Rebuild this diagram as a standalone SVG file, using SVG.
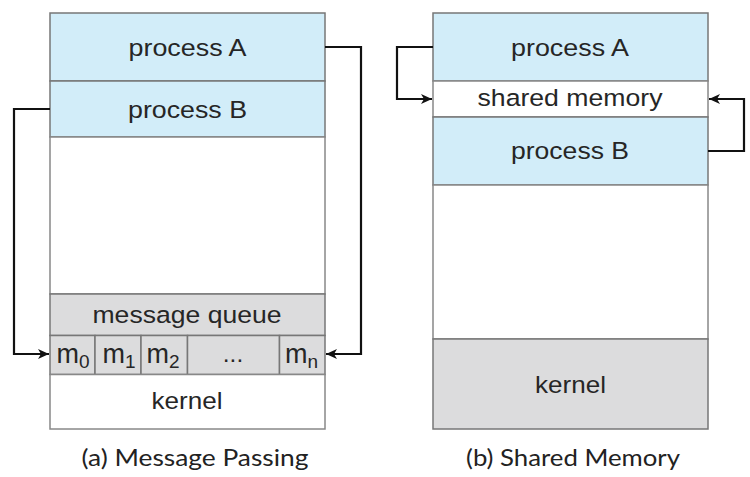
<svg xmlns="http://www.w3.org/2000/svg" width="750" height="477" viewBox="0 0 750 477">
<defs>
<marker id="ah" markerUnits="userSpaceOnUse" markerWidth="12" markerHeight="10" refX="11" refY="5" orient="auto">
<path d="M0,0 L11,5 L0,10 L3,5 Z" fill="#111"/>
</marker>
<style>
.blue{fill:#d2edf9;stroke:#777;stroke-width:1.5}
.white{fill:#ffffff;stroke:#888;stroke-width:1.5}
.gray{fill:#dcdcdd;stroke:#777;stroke-width:1.5}
.lbl{font-family:"Liberation Sans",Arial,sans-serif;font-size:24.5px;fill:#262626;text-anchor:middle}
.m{font-family:"Liberation Sans",Arial,sans-serif;font-size:27px;fill:#262626}
.sub{font-size:19px}
.cap{font-family:Lato,"Open Sans",sans-serif;font-size:23px;fill:#222;text-anchor:middle}
.conn{fill:none;stroke:#111;stroke-width:2.2}
</style>
</defs>
<rect width="750" height="477" fill="#ffffff"/>

<g id="left-diagram">
<g id="l-processA"><rect class="blue" x="50" y="13" width="275" height="68"/><text class="lbl" x="187.5" y="55.5" textLength="118" lengthAdjust="spacingAndGlyphs">process A</text></g>
<g id="l-processB"><rect class="blue" x="50" y="81" width="275" height="56"/><text class="lbl" x="187.5" y="117.5" textLength="119" lengthAdjust="spacingAndGlyphs">process B</text></g>
<g id="l-free"><rect class="white" x="50" y="137" width="275" height="157"/></g>
<g id="l-mq"><rect class="gray" x="50" y="294" width="275" height="41.5"/><text class="lbl" x="187" y="322.5" textLength="189" lengthAdjust="spacingAndGlyphs">message queue</text></g>
<g id="l-msgs">
<rect class="gray" x="50" y="335.5" width="45" height="39"/>
<rect class="gray" x="95" y="335.5" width="46" height="39"/>
<rect class="gray" x="141" y="335.5" width="46.5" height="39"/>
<rect class="gray" x="187.5" y="335.5" width="92" height="39"/>
<rect class="gray" x="279.5" y="335.5" width="45.5" height="39"/>
<text class="m" x="56.5" y="362.5">m<tspan class="sub" dy="5">0</tspan></text>
<text class="m" x="102.5" y="362.5">m<tspan class="sub" dy="5">1</tspan></text>
<text class="m" x="146.5" y="362.5">m<tspan class="sub" dy="5">2</tspan></text>
<text class="lbl" x="233" y="362">...</text>
<text class="m" x="285" y="362.5">m<tspan class="sub" dy="5">n</tspan></text>
</g>
<g id="l-kernel"><rect class="white" x="50" y="374.5" width="275" height="54.5"/><text class="lbl" x="187" y="408.5" textLength="71" lengthAdjust="spacingAndGlyphs">kernel</text></g>
<text class="cap" x="195" y="466" textLength="227" lengthAdjust="spacingAndGlyphs">(a) Message Passing</text>
</g>

<g id="right-diagram">
<g id="r-processA"><rect class="blue" x="433" y="13" width="275" height="68"/><text class="lbl" x="570" y="55.5" textLength="118" lengthAdjust="spacingAndGlyphs">process A</text></g>
<g id="r-shared"><rect class="white" x="433" y="81" width="275" height="36"/><text class="lbl" x="570" y="105.5" textLength="185" lengthAdjust="spacingAndGlyphs">shared memory</text></g>
<g id="r-processB"><rect class="blue" x="433" y="117" width="275" height="68"/><text class="lbl" x="570" y="158.5" textLength="118" lengthAdjust="spacingAndGlyphs">process B</text></g>
<g id="r-free"><rect class="white" x="433" y="185" width="275" height="154"/></g>
<g id="r-kernel"><rect class="gray" x="433" y="339" width="275" height="90"/><text class="lbl" x="570.5" y="392.5" textLength="71" lengthAdjust="spacingAndGlyphs">kernel</text></g>
<text class="cap" x="573" y="466" textLength="214" lengthAdjust="spacingAndGlyphs">(b) Shared Memory</text>
</g>

<g id="connectors">
<path class="conn" d="M50,109 H14 V354 H49" marker-end="url(#ah)"/>
<path class="conn" d="M325,47 H361 V354 H326" marker-end="url(#ah)"/>
<path class="conn" d="M433,47 H397 V99 H432" marker-end="url(#ah)"/>
<path class="conn" d="M708,151 H744 V99 H709" marker-end="url(#ah)"/>
</g>
</svg>
